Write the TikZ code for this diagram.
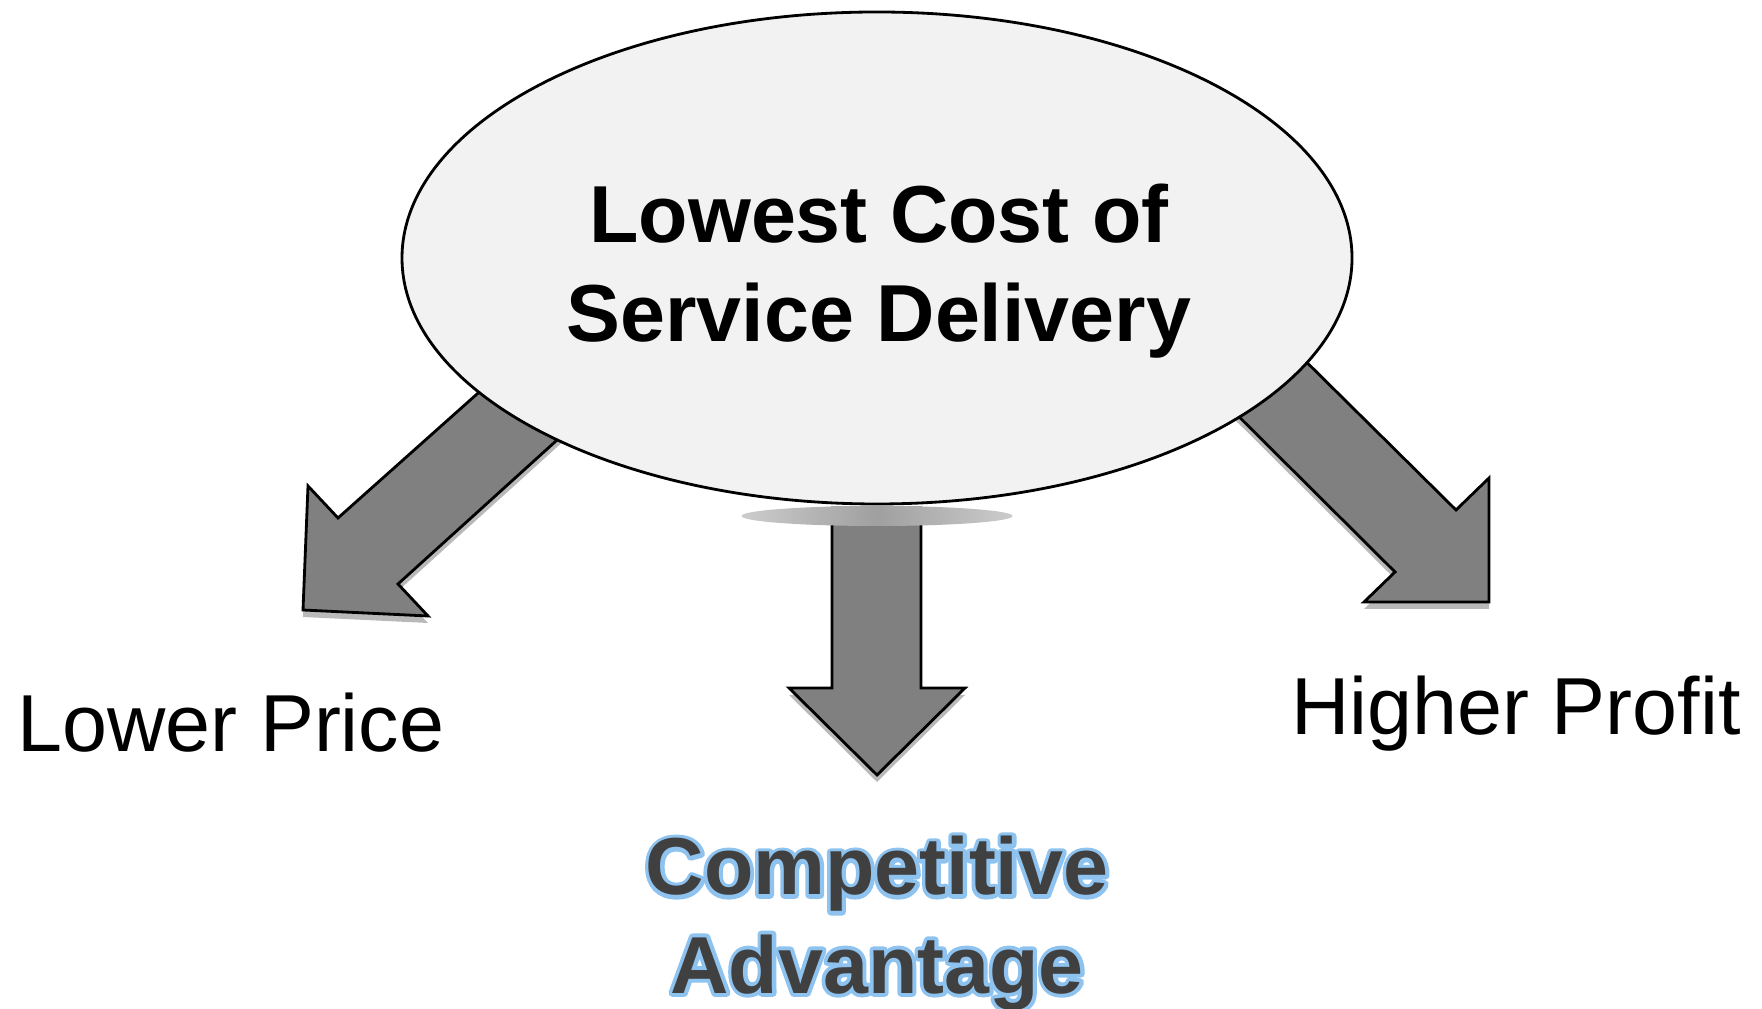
\documentclass[tikz,border=0pt]{standalone}
\usepackage{fontspec}
\setmainfont{Liberation Sans}
\usetikzlibrary{calc,shapes.geometric}
\definecolor{hubfill}{HTML}{F2F2F2}
\definecolor{arrowgray}{HTML}{808080}
\definecolor{advtext}{HTML}{404040}
\definecolor{advglow}{HTML}{8EC3F0}
\tikzset{
  hub/.style={ellipse, draw=black, line width=0.8pt, fill=hubfill, minimum width=9.5cm, minimum height=4.92cm, inner sep=0pt},
  hubtext/.style={align=center, font=\fontsize{23}{28.2}\selectfont\bfseries, anchor=base},
  outcome/.style={font=\fontsize{23}{28}\selectfont, anchor=base},
  arrowbody/.style={fill=arrowgray, draw=black, line width=0.8pt, line join=miter},
  arrowshadow/.style={fill=gray!55, yshift=-0.7mm},
  lens/.style={ellipse, minimum width=2.71cm, minimum height=0.2cm, inner sep=0pt, left color=gray!40, right color=gray!40, middle color=gray!75}
}
\def\fatarrow#1{\fill[arrowshadow] #1 -- cycle; \draw[arrowbody] #1 -- cycle;}
\def\glowtext#1{\leavevmode\rlap{\special{pdf:literal direct 1 Tr 2.2 w 1 j}\color{advglow}#1\special{pdf:literal direct 0 Tr}}#1}

\begin{document}
\begin{tikzpicture}
			%%%%% START %%%%%
			\useasboundingbox (0, 0) rectangle (17.62, 10.08);
			
			% left arrow
			\fatarrow{(5.23, 6.55) -- (3.38, 4.90) -- (3.08, 5.22) -- (3.03, 3.98) -- (4.28, 3.92) -- (3.98, 4.24) -- (5.98, 6.05)}
			
			% right arrow
			\fatarrow{(12.69, 6.83) -- (14.56, 4.98) -- (14.89, 5.30) -- (14.89, 4.06) -- (13.64, 4.06) -- (13.95, 4.36) -- (12.02, 6.28)}
			
			% middle arrow
			\fatarrow{(8.32, 5.00) -- (8.32, 3.20) -- (7.89, 3.20) -- (8.77, 2.33) -- (9.65, 3.20) -- (9.21, 3.20) -- (9.21, 5.00)}
			
			\node[lens] (base) at (8.77, 4.92) {};
			\node[hub] (core) at (8.77, 7.50) {};
			\node[hubtext] (title) at (8.79, 6.66) {Lowest Cost of\\Service Delivery};
			
			\node[outcome] (price) at (2.31, 2.56) {Lower Price};
			\node[outcome] (profit) at (15.16, 2.73) {Higher Profit};
			\node[outcome, align=center, font=\fontsize{23}{27.9}\selectfont\bfseries, text=advtext] (advantage) at (8.77, 0.15) {\glowtext{Competitive}\\\glowtext{Advantage}};
			
			%%%%% END %%%%%
		\end{tikzpicture}
\end{document}
